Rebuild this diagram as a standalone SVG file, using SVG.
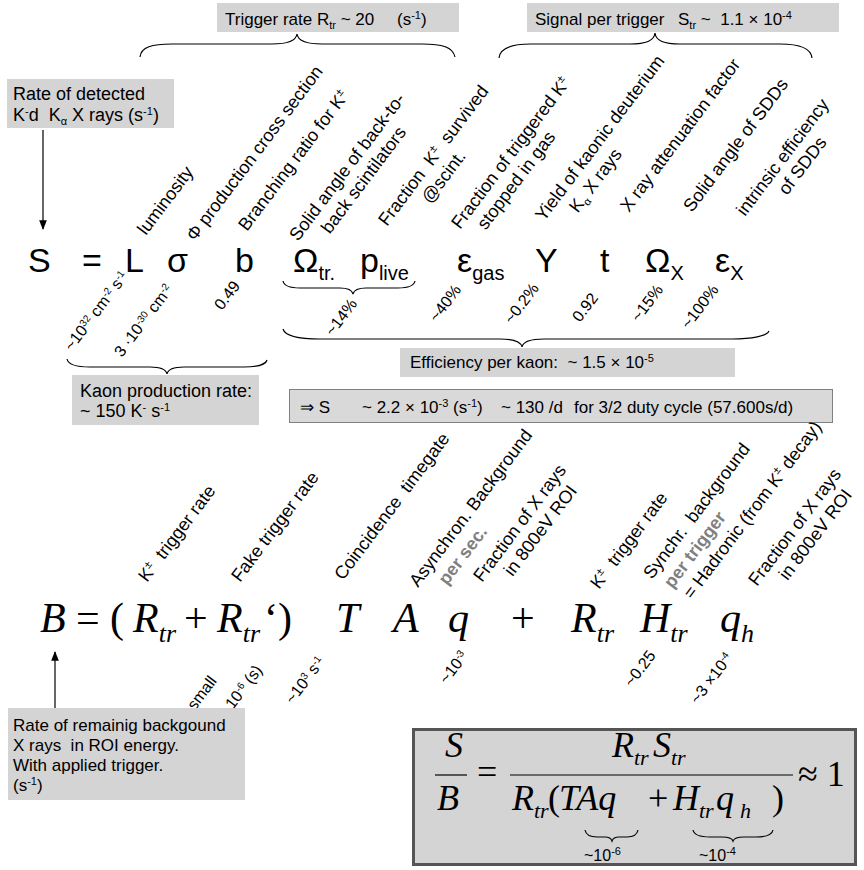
<svg xmlns="http://www.w3.org/2000/svg" width="864" height="870" viewBox="0 0 864 870">
<defs>
<style>
.t{font-family:"Liberation Sans",Arial,sans-serif;font-size:17px;fill:#000}
.t18{font-size:18px}
.l{font-family:"Liberation Sans",Arial,sans-serif;font-size:18px;fill:#000}
.v{font-family:"Liberation Sans",Arial,sans-serif;font-size:16px;fill:#000}
.big{font-family:"Liberation Sans",Arial,sans-serif;font-size:34px;fill:#000}
.sub20{font-size:20px}
.sp{font-size:11px}
.sp2{font-size:10px}
.m{font-family:"Liberation Serif","Times New Roman",serif;font-style:italic;font-size:42px;fill:#000}
.ms{font-size:26px}
.f{font-family:"Liberation Serif","Times New Roman",serif;font-style:italic;font-size:36px;fill:#000}
.fs{font-size:22px}
.mu{font-style:normal}
.box{fill:#d4d4d4}
.br{fill:none;stroke:#000;stroke-width:1.2}
.ln{stroke:#000;stroke-width:1.2;fill:none}
.gb{font-weight:bold;fill:#808080}
</style>
<marker id="ah" viewBox="0 0 10 10" refX="9" refY="5" markerWidth="8" markerHeight="8" orient="auto-start-reverse"><path d="M0,1 L10,5 L0,9 z" fill="#000"/></marker>
</defs>
<rect width="864" height="870" fill="#fff"/>

<g id="box-trigger">
<rect class="box" x="217" y="3" width="242" height="29"/>
<text class="t" x="225" y="25" xml:space="preserve">Trigger rate R<tspan class="sp" dy="4">tr</tspan><tspan dy="-4"> ~ 20</tspan><tspan x="397">(s</tspan><tspan class="sp" dy="-6">-1</tspan><tspan dy="6">)</tspan></text>
</g>
<g id="box-signal">
<rect class="box" x="527" y="3" width="312" height="29"/>
<text class="t" x="535" y="25" xml:space="preserve">Signal per trigger<tspan x="678">S</tspan><tspan class="sp" dy="4">tr</tspan><tspan dy="-4"> ~  1.1 × 10</tspan><tspan class="sp" dy="-6">-4</tspan></text>
</g>
<g id="box-rate-detected">
<rect class="box" x="7" y="79" width="167" height="49"/>
<text class="t t18" x="13" y="100">Rate of detected</text>
<text class="t t18" x="13" y="121" xml:space="preserve">K<tspan class="sp" dy="-6">-</tspan><tspan dy="6">d  K</tspan><tspan class="sp" dy="4">α</tspan><tspan dy="-4"> X rays (s</tspan><tspan class="sp" dy="-6">-1</tspan><tspan dy="6">)</tspan></text>
</g>

<g id="connectors">
<line class="ln" x1="43" y1="130" x2="43" y2="229" marker-end="url(#ah)"/>
<line class="ln" x1="55" y1="708" x2="55" y2="652" marker-end="url(#ah)"/>
<path class="br" d="M140,57 C141,47 152,44 172,44 L272,44 C288,44 296,41 297,34 C298,41 306,44 322,44 L422,44 C442,44 453,47 455,57"/>
<path class="br" d="M499,58 C500,48 511,44 531,44 L630,44 C646,44 654,41 655,33 C656,41 664,44 680,44 L780,44 C800,44 811,48 812,58"/>
<path class="br" d="M283,281 C284,286 290,288 300,288 L340,288 C348,288 352,290 353,294 C354,290 358,288 366,288 L398,288 C408,288 414,286 415,281"/>
<path class="br" d="M283,329 C285,336 300,339 320,339 L500,339 C514,339 521,342 522,347 C523,342 530,339 544,339 L732,339 C752,339 767,336 769,331"/>
<path class="br" d="M67,359 C68,364 76,367 90,367 L150,367 C161,367 166,369 167,374 C168,369 173,367 184,367 L244,367 C258,367 266,364 267,360"/>
</g>

<g id="labels-top">
<text class="l" transform="translate(146,236) rotate(-53)">luminosity</text>
<text class="l" transform="translate(195,242) rotate(-53)">Φ production cross section</text>
<text class="l" transform="translate(247,232) rotate(-53)">Branching ratio for K<tspan class="sp" dy="-7">±</tspan></text>
<g transform="translate(298,242) rotate(-53)"><text class="l" x="0" y="0">Solid angle of back-to-</text><text class="l" x="25" y="21">back scintilators</text></g>
<g transform="translate(387,227) rotate(-53)"><text class="l" x="0" y="0" xml:space="preserve">Fraction  K<tspan class="sp" dy="-7">±</tspan><tspan dy="7">  survived</tspan></text><text class="l" x="44" y="21">@scint.</text></g>
<g transform="translate(460,230) rotate(-53)"><text class="l" x="0" y="0">Fraction of triggered K<tspan class="sp" dy="-7">±</tspan></text><text class="l" x="15" y="21">stopped in gas</text></g>
<g transform="translate(544,222) rotate(-53)"><text class="l" x="0" y="0">Yield of kaonic deuterium</text><text class="l" x="27" y="22">K<tspan class="sp" dy="4">α</tspan><tspan dy="-4"> X rays</tspan></text></g>
<text class="l" transform="translate(629,213) rotate(-53)">X ray attenuation factor</text>
<text class="l" transform="translate(692,213) rotate(-53)">Solid angle of SDDs</text>
<g transform="translate(745,217) rotate(-53)"><text class="l" x="0" y="0">intrinsic efficiency</text><text class="l" x="42" y="21">of SDDs</text></g>
</g>

<g id="formula-S">
<text class="big" x="28" y="272">S</text>
<text class="big" x="82" y="272">=</text>
<text class="big" x="125" y="272">L</text>
<text class="big" x="167" y="272">σ</text>
<text class="big" x="235" y="272">b</text>
<text class="big" x="293" y="272">Ω<tspan class="sub20" dy="8">tr.</tspan></text>
<text class="big" x="360" y="272">p<tspan class="sub20" dy="8">live</tspan></text>
<text class="big" x="457" y="272">ε<tspan class="sub20" dy="8">gas</tspan></text>
<text class="big" x="535" y="272">Y</text>
<text class="big" x="600" y="272">t</text>
<text class="big" x="645" y="272">Ω<tspan class="sub20" dy="8">X</tspan></text>
<text class="big" x="715" y="272">ε<tspan class="sub20" dy="8">X</tspan></text>
</g>

<g id="values-S">
<text class="v" transform="translate(72,352) rotate(-53)">~10<tspan class="sp2" dy="-5">32</tspan><tspan dy="5"> cm</tspan><tspan class="sp2" dy="-5">-2</tspan><tspan dy="5"> s</tspan><tspan class="sp2" dy="-5">-1</tspan></text>
<text class="v" transform="translate(122,358) rotate(-53)">3 ·10<tspan class="sp2" dy="-5">-30</tspan><tspan dy="5"> cm</tspan><tspan class="sp2" dy="-5">-2</tspan></text>
<text class="v" transform="translate(222,311) rotate(-53)">0.49</text>
<text class="v" transform="translate(333,337) rotate(-53)">~14%</text>
<text class="v" transform="translate(437,323) rotate(-53)">~40%</text>
<text class="v" transform="translate(512,325) rotate(-53)">~0.2%</text>
<text class="v" transform="translate(580,323) rotate(-53)">0.92</text>
<text class="v" transform="translate(639,323) rotate(-53)">~15%</text>
<text class="v" transform="translate(689,330) rotate(-53)">~100%</text>
</g>

<g id="box-kaon">
<rect class="box" x="72" y="375" width="187" height="50"/>
<text class="t t18" x="80" y="397">Kaon production rate:</text>
<text class="t t18" x="80" y="417">~ 150 K<tspan class="sp" dy="-6">-</tspan><tspan dy="6"> s</tspan><tspan class="sp" dy="-6">-1</tspan></text>
</g>
<g id="box-efficiency">
<rect class="box" x="400" y="348" width="335" height="29"/>
<text class="t" x="410" y="368" xml:space="preserve">Efficiency per kaon:  ~ 1.5 × 10<tspan class="sp" dy="-6">-5</tspan></text>
</g>
<g id="box-result">
<rect x="289.5" y="389.5" width="543" height="33" fill="#d9d9d9" stroke="#808080" stroke-width="1"/>
<text class="t" x="300" y="413" font-size="18.5" xml:space="preserve">⇒ S</text>
<text class="t" x="362" y="413" font-size="18.5">~ 2.2 × 10<tspan class="sp" dy="-6">-3</tspan><tspan dy="6"> (s</tspan><tspan class="sp" dy="-6">-1</tspan><tspan dy="6">)</tspan></text>
<text class="t" x="501" y="413" font-size="18.5">~ 130 /d</text>
<text class="t" x="574" y="413" font-size="18.5">for 3/2 duty cycle (57.600s/d)</text>
</g>

<g id="labels-B">
<text class="l" transform="translate(147,583) rotate(-53)" xml:space="preserve">K<tspan class="sp" dy="-7">±</tspan><tspan dy="7">  trigger rate</tspan></text>
<text class="l" transform="translate(240,583) rotate(-53)">Fake trigger rate</text>
<text class="l" transform="translate(343,581) rotate(-53)" xml:space="preserve">Coincidence  timegate</text>
<g transform="translate(418,588) rotate(-53)"><text class="l" x="0" y="0">Asynchron. Background</text><text class="l gb" x="19" y="22">per sec.</text></g>
<g transform="translate(482,583) rotate(-53)"><text class="l" x="0" y="0">Fraction of X rays</text><text class="l" x="23" y="21">in 800eV ROI</text></g>
<text class="l" transform="translate(599,590) rotate(-53)" xml:space="preserve">K<tspan class="sp" dy="-7">±</tspan><tspan dy="7">  trigger rate</tspan></text>
<g transform="translate(652,580) rotate(-53)"><text class="l" x="0" y="0" xml:space="preserve">Synchr.  background</text><text class="l gb" x="5" y="22">per trigger</text><text class="l" x="8" y="44">= Hadronic (from K<tspan class="sp" dy="-7">±</tspan><tspan dy="7"> decay)</tspan></text></g>
<g transform="translate(757,587) rotate(-53)"><text class="l" x="0" y="0">Fraction of X rays</text><text class="l" x="23" y="21">in 800eV ROI</text></g>
</g>

<g id="formula-B">
<text class="m" x="40" y="632">B</text>
<text class="m mu" x="76" y="632">=</text>
<text class="m mu" x="110" y="632">(</text>
<text class="m" x="133" y="632">R<tspan class="ms" dy="10">tr</tspan></text>
<text class="m mu" x="184" y="632">+</text>
<text class="m" x="217" y="632">R<tspan class="ms" dy="10">tr</tspan></text>
<text class="m mu" x="264" y="632">‘)</text>
<text class="m" x="336" y="632">T</text>
<text class="m" x="393" y="632">A</text>
<text class="m" x="448" y="632">q</text>
<text class="m mu" x="511" y="632">+</text>
<text class="m" x="571" y="632">R<tspan class="ms" dy="10">tr</tspan></text>
<text class="m" x="640" y="632">H<tspan class="ms" dy="10">tr</tspan></text>
<text class="m" x="720" y="632">q<tspan class="ms" dy="10">h</tspan></text>
</g>

<g id="values-B">
<text class="v" transform="translate(195,711) rotate(-53)">small</text>
<text class="v" transform="translate(233,710) rotate(-53)">10<tspan class="sp2" dy="-5">-6</tspan><tspan dy="5"> (s)</tspan></text>
<text class="v" transform="translate(293,705) rotate(-53)">~10<tspan class="sp2" dy="-5">3</tspan><tspan dy="5"> s</tspan><tspan class="sp2" dy="-5">-1</tspan></text>
<text class="v" transform="translate(447,685) rotate(-53)">~10<tspan class="sp2" dy="-5">-3</tspan></text>
<text class="v" transform="translate(632,688) rotate(-53)">~0.25</text>
<text class="v" transform="translate(698,705) rotate(-53)">~3 ×10<tspan class="sp2" dy="-5">-4</tspan></text>
</g>

<g id="box-background">
<rect class="box" x="8" y="708" width="237" height="92"/>
<text class="t" x="13" y="731" font-size="17.5">Rate of remainig backgound</text>
<text class="t" x="13" y="751" font-size="17.5" xml:space="preserve">X rays  in ROI energy.</text>
<text class="t" x="13" y="771" font-size="17.5">With applied trigger.</text>
<text class="t" x="13" y="791" font-size="17.5">(s<tspan class="sp" dy="-6">-1</tspan><tspan dy="6">)</tspan></text>
</g>

<g id="box-ratio">
<rect x="413.5" y="729.5" width="442" height="135" fill="#d4d4d4" stroke="#555" stroke-width="3"/>
<text class="f" x="445" y="757">S</text>
<line class="ln" x1="435" y1="775" x2="467" y2="775"/>
<text class="f" x="437" y="810">B</text>
<text class="f mu" x="477" y="784">=</text>
<line class="ln" x1="510" y1="775" x2="793" y2="775"/>
<text class="f" x="612" y="757">R<tspan class="fs" dy="8">tr</tspan></text>
<text class="f" x="653" y="757">S<tspan class="fs" dy="8">tr</tspan></text>
<text class="f" x="512" y="810">R<tspan class="fs" dy="8">tr</tspan></text>
<text class="f mu" x="548" y="810">(</text>
<text class="f" x="559" y="810">TAq</text>
<text class="f mu" x="648" y="810">+</text>
<text class="f" x="673" y="810">H</text>
<text class="f fs" x="699" y="818">tr</text>
<text class="f" x="716" y="810">q</text>
<text class="f fs" x="740" y="818">h</text>
<text class="f mu" x="772" y="810">)</text>
<text class="f mu" x="798" y="786">≈ 1</text>
<path class="br" d="M585,830 C586,835 590,837 597,837 L605,837 C609,837 611,838 612,841 C613,838 615,837 619,837 L627,837 C634,837 637,835 638,830"/>
<path class="br" d="M693,830 C694,835 700,837 710,837 L722,837 C729,837 732,838 733,841 C734,838 737,837 744,837 L756,837 C766,837 772,835 773,830"/>
<text class="v" x="584" y="861" font-size="15">~10<tspan class="sp" dy="-6">-6</tspan></text>
<text class="v" x="699" y="861" font-size="15">~10<tspan class="sp" dy="-6">-4</tspan></text>
</g>
</svg>
